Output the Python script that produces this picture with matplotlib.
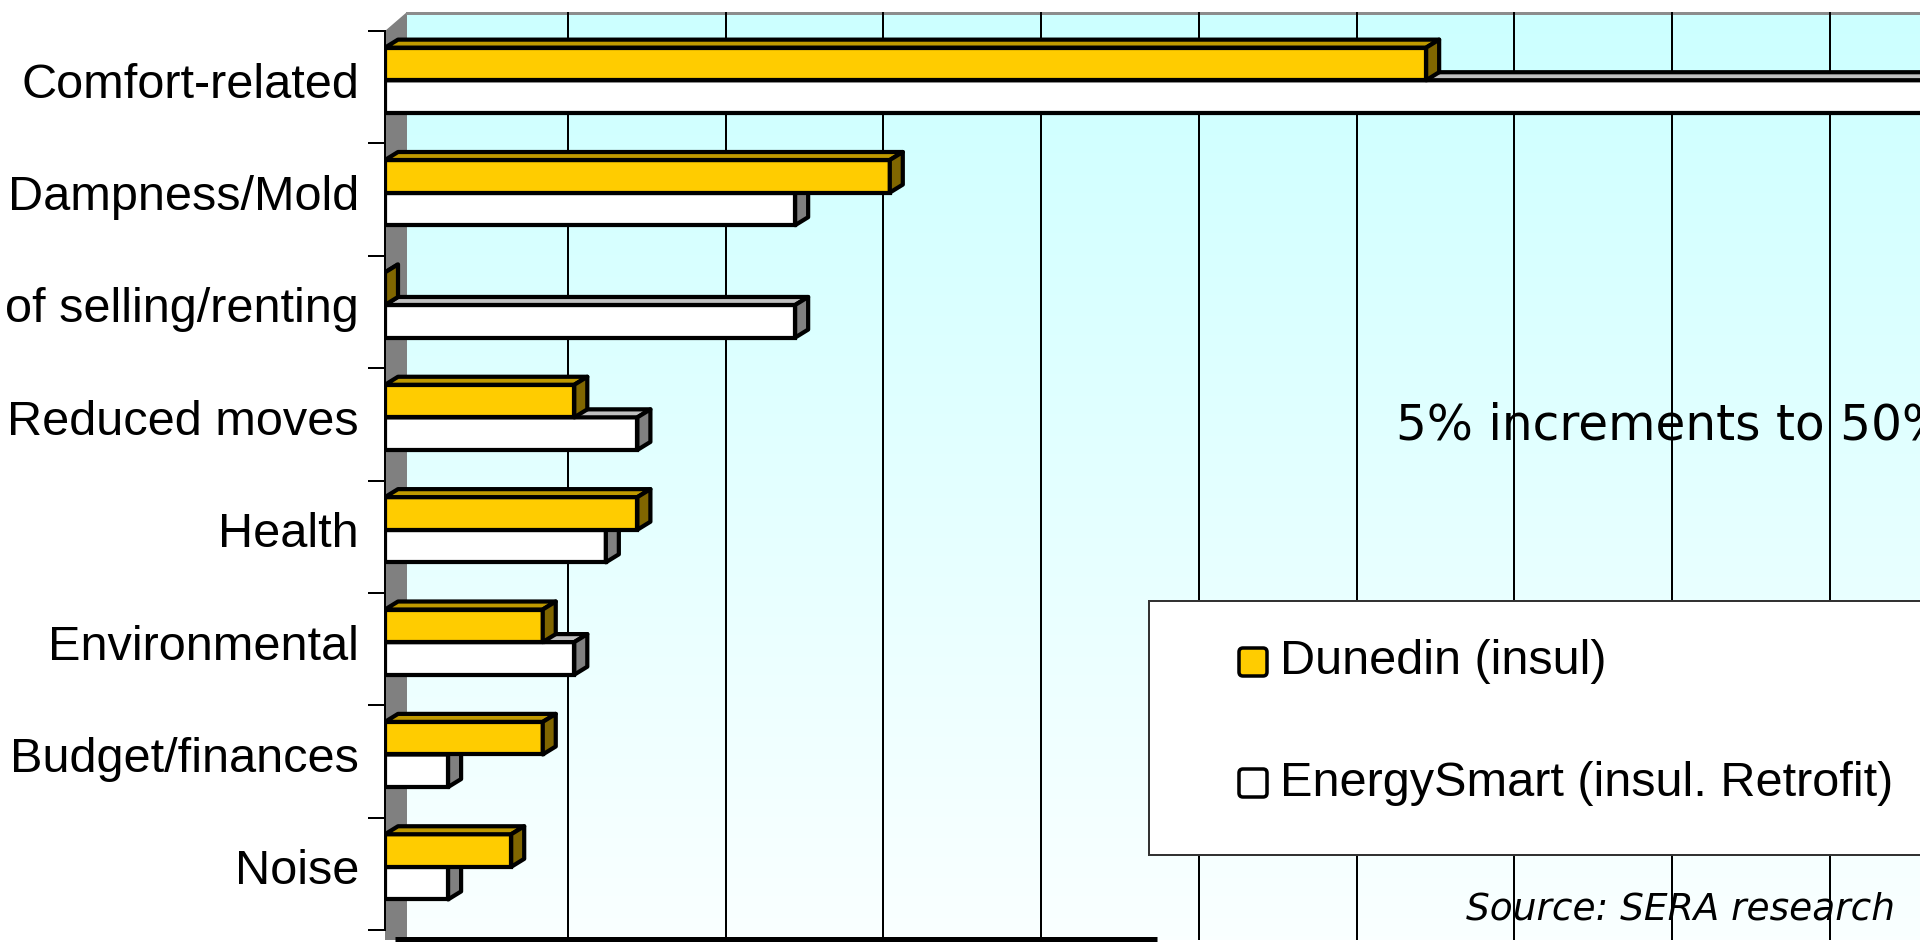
import matplotlib
matplotlib.use("Agg")
import matplotlib.pyplot as plt
import numpy as np
from matplotlib.patches import Polygon, Rectangle, FancyBboxPatch

# survey reasons, top to bottom
categories = ["Comfort-related", "Dampness/Mold", "of selling/renting", "Reduced moves",
              "Health", "Environmental", "Budget/finances", "Noise"]
# percent of respondents
dunedin = [33, 16, 0, 6, 8, 5, 5, 4]
energysmart = [50, 13, 13, 8, 7, 6, 2, 2]
series_names = ["Dunedin (insul)", "EnergySmart (insul. Retrofit)"]
grid_step = 5
grid_max = 50

plt.rcParams["font.family"] = ["Liberation Sans", "DejaVu Sans"]

W, H, DPI = 1920, 942, 100
PX = 72.0 / DPI  # one pixel in points

fig = plt.figure(figsize=(W / DPI, H / DPI), dpi=DPI)
fig.patch.set_facecolor("white")


def fig_box(x0, y0, x1, y1):
    """pixel box (origin top-left) -> [left, bottom, width, height] in figure fraction"""
    return [x0 / W, 1 - y1 / H, (x1 - x0) / W, (y1 - y0) / H]


PX_PER_PCT = 31.55
X_MAX = 52
TOP, BOTTOM = 31, 930

# colours (front, top, side)
YEL = ("#FFCC00", "#BF9900", "#806600")
WHT = ("#FFFFFF", "#C0C0C0", "#808080")

# ---- background: back wall gradient, side wall, frame lines ----
bg = fig.add_axes([0, 0, 1, 1], zorder=0)
grad = np.linspace(0, 1, 256)[:, None]
top_c = np.array([204, 255, 255]) / 255
bot_c = np.array([250, 255, 255]) / 255
img = top_c[None, None, :] * (1 - grad[..., None]) + bot_c[None, None, :] * grad[..., None]
bg.imshow(img, extent=(407, W + 10, 940, 12), origin="upper", aspect="auto")
bg.add_patch(Polygon([(385, TOP), (407, 12), (407, 940), (385, 940)],
                     closed=True, facecolor="#808080", edgecolor="none"))
bg.plot([407, W + 10], [13, 13], color="#8c8c8c", lw=3 * PX)
bg.plot([395, 1157], [939, 939], color="black", lw=5 * PX, solid_capstyle="butt")
bg.set_xlim(0, W)
bg.set_ylim(H, 0)
bg.axis("off")

# ---- back wall gridlines every 5% ----
back = fig.add_axes(fig_box(410, 12, 410 + X_MAX * PX_PER_PCT, 940), zorder=1)
back.patch.set_alpha(0)
back.set_xlim(0, X_MAX)
back.set_xticks(np.arange(grid_step, grid_max, grid_step))
back.set_yticks([])
back.grid(axis="x", color="black", lw=2 * PX)
back.tick_params(axis="x", length=0, labelbottom=False)
for s in back.spines.values():
    s.set_visible(False)

# ---- bars ----
ax = fig.add_axes(fig_box(385, TOP, 385 + X_MAX * PX_PER_PCT, BOTTOM), zorder=2)
ax.patch.set_alpha(0)
ax.set_xlim(0, X_MAX)
ax.set_ylim(len(categories), 0)

n = len(categories)
idx = np.arange(n)
centers = idx + 0.438
BAR_H = 0.29
DX = 13 / PX_PER_PCT
DY = 8 / ((BOTTOM - TOP) / n)
EDGE = 4.2 * PX


def depth_faces(y_top, y_bot, value, colors, z):
    # top face and right face for the pseudo-3D look
    top = [(0, y_top), (value, y_top), (value + DX, y_top - DY), (DX, y_top - DY)]
    side = [(value, y_top), (value, y_bot), (value + DX, y_bot - DY), (value + DX, y_top - DY)]
    ax.add_patch(Polygon(top, closed=True, facecolor=colors[1], edgecolor="black",
                         lw=EDGE, joinstyle="round", zorder=z))
    ax.add_patch(Polygon(side, closed=True, facecolor=colors[2], edgecolor="black",
                         lw=EDGE, joinstyle="round", zorder=z))


# EnergySmart bars sit below, drawn first
ax.barh(centers + BAR_H / 2, energysmart, height=BAR_H, color=WHT[0],
        edgecolor="black", lw=EDGE, zorder=2)
for c, v in zip(centers, energysmart):
    depth_faces(c, c + BAR_H, v, WHT, 2)

ax.barh(centers - BAR_H / 2, dunedin, height=BAR_H, color=YEL[0],
        edgecolor="black", lw=EDGE, zorder=3)
for c, v in zip(centers, dunedin):
    depth_faces(c - BAR_H, c, v, YEL, 3)

ax.set_yticks(centers, categories)
ax.set_yticks(np.arange(n + 1), minor=True)
ax.tick_params(axis="y", which="major", length=0, pad=26 * PX, labelsize=35)
ax.tick_params(axis="y", which="minor", length=17 * PX, width=2 * PX, color="black")
ax.set_xticks([])
for name, s in ax.spines.items():
    s.set_visible(name == "left")
ax.spines["left"].set_linewidth(2 * PX)

# ---- legend and notes on top ----
top_ax = fig.add_axes([0, 0, 1, 1], zorder=4)
top_ax.patch.set_alpha(0)
top_ax.set_xlim(0, W)
top_ax.set_ylim(H, 0)
top_ax.axis("off")

top_ax.add_patch(Rectangle((1149, 601), 820, 254, facecolor="white",
                           edgecolor="#333333", lw=2 * PX))
for (yc, colors, label) in [(662, YEL, series_names[0]), (783, WHT, series_names[1])]:
    top_ax.add_patch(FancyBboxPatch((1239, yc - 14), 28, 28,
                                    boxstyle="round,pad=0,rounding_size=4",
                                    facecolor=colors[0], edgecolor="black", lw=3.5 * PX))
    top_ax.text(1280, yc, label, fontsize=35, va="center", ha="left")

top_ax.text(1396, 425, "5% increments to 50%", fontsize=35, va="center", ha="left",
            family="DejaVu Sans")
top_ax.text(1466, 909, "Source: SERA research", fontsize=27, va="center", ha="left",
            family="DejaVu Sans", style="italic")

fig.savefig("out.png", dpi=DPI)
